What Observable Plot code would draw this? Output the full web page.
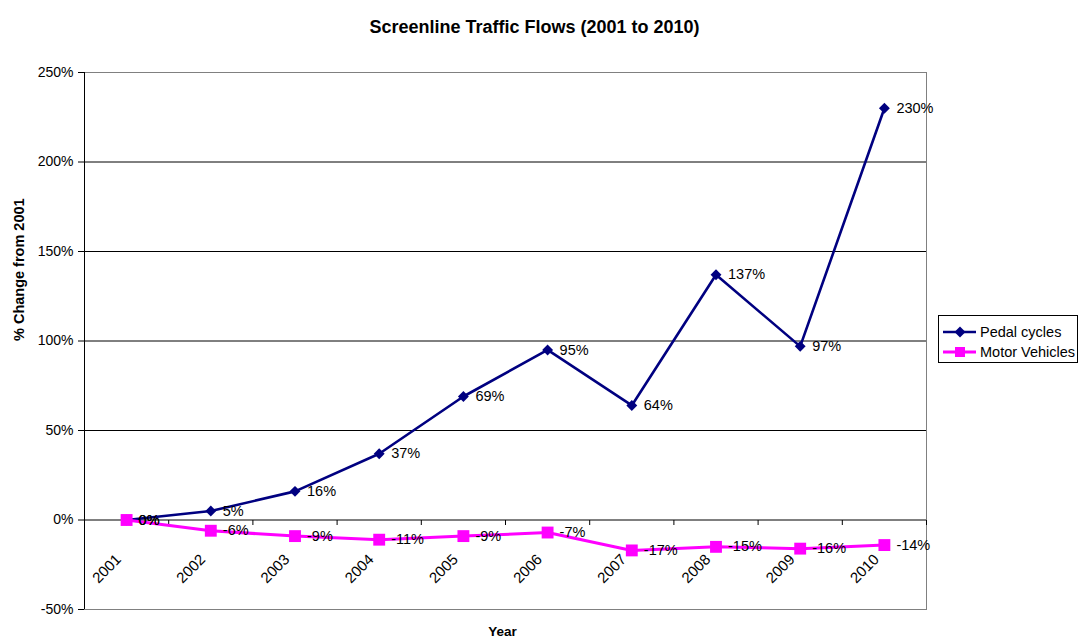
<!DOCTYPE html>
<html>
<head>
<meta charset="utf-8">
<script src="https://cdn.jsdelivr.net/npm/d3@7"></script>
<script src="https://cdn.jsdelivr.net/npm/@observablehq/plot@0.6"></script>
<style>
  html, body { margin: 0; padding: 0; background: #fff; }
  #wrap { position: relative; width: 1080px; height: 641px; font-family: "Liberation Sans", Arial, sans-serif; }
  #legend { position: absolute; left: 938px; top: 315px; width: 140px; height: 48px; border: 1px solid #000; box-sizing: border-box; background: #fff; }
</style>
</head>
<body>
<div id="wrap"></div>
<script>
// ---- data ----
const titleText = "Screenline Traffic Flows (2001 to 2010)";
const xLabel = "Year";
const yLabel = "% Change from 2001";
const years = [2001, 2002, 2003, 2004, 2005, 2006, 2007, 2008, 2009, 2010];
const pedalCycles = [0, 5, 16, 37, 69, 95, 64, 137, 97, 230];
const motorVehicles = [0, -6, -9, -11, -9, -7, -17, -15, -16, -14];
const yTicks = [-50, 0, 50, 100, 150, 200, 250];
const seriesNames = ["Pedal cycles", "Motor Vehicles"];
const seriesColors = ["#000080", "#FF00FF"];

const pedalRows = years.map((year, i) => ({year, value: pedalCycles[i]}));
const motorRows = years.map((year, i) => ({year, value: motorVehicles[i]}));
const boundaries = d3.range(years.length + 1).map(i => years[0] - 0.5 + i);
const xDomain = [boundaries[0], boundaries[boundaries.length - 1]];
const yDomain = [yTicks[0], yTicks[yTicks.length - 1]];
const gridValues = yTicks.filter(v => v !== 0 && v !== yDomain[0] && v !== yDomain[1]);

const tickDown = {draw(ctx) { ctx.moveTo(0, 0); ctx.lineTo(0, 5); }};
const font = "Liberation Sans, Arial, sans-serif";

const chart = Plot.plot({
  width: 1080,
  height: 641,
  marginTop: 72,
  marginBottom: 32,
  marginLeft: 84,
  marginRight: 154,
  style: {fontFamily: font, fontSize: "14px", background: "#fff", color: "#000"},
  x: {type: "linear", domain: xDomain, axis: null},
  y: {domain: yDomain, axis: null},
  marks: [
    Plot.frame({stroke: "#808080"}),
    Plot.ruleY(gridValues, {stroke: "#000", strokeWidth: 1}),
    Plot.ruleY([0], {stroke: "#000", strokeWidth: 1}),
    Plot.ruleX([xDomain[0]], {stroke: "#000", strokeWidth: 1}),
    Plot.dot(boundaries, {x: d => d, y: () => 0, symbol: tickDown, stroke: "#000", fill: "none", r: 1, strokeWidth: 1}),
    Plot.axisY({ticks: yTicks, tickFormat: d => d + "%", tickSize: 6, tickPadding: 5, label: null, fontSize: 14, stroke: "#000"}),
    Plot.text(years, {x: d => d, y: () => 0, text: d => String(d), rotate: -45, textAnchor: "end", dx: -8, dy: 37, fontSize: 15, fill: "#000"}),
    Plot.text([titleText], {text: d => d, frameAnchor: "top", dy: -52, dx: 29, fontWeight: "bold", fontSize: 18, fill: "#000"}),
    Plot.text([yLabel], {text: d => d, frameAnchor: "left", dx: -65, rotate: -90, fontWeight: "bold", fontSize: 14.5, fill: "#000"}),
    Plot.text([xLabel], {text: d => d, frameAnchor: "bottom", dy: 26, dx: -3, fontWeight: "bold", fontSize: 13.5, fill: "#000"}),
    Plot.line(pedalRows, {x: "year", y: "value", stroke: seriesColors[0], strokeWidth: 2.6}),
    Plot.dot(pedalRows, {x: "year", y: "value", symbol: "diamond2", r: 4.9, fill: seriesColors[0], stroke: "none"}),
    Plot.line(motorRows, {x: "year", y: "value", stroke: seriesColors[1], strokeWidth: 3}),
    Plot.dot(motorRows, {x: "year", y: "value", symbol: "square", r: 6.7, fill: seriesColors[1], stroke: "none"}),
    Plot.text(pedalRows, {x: "year", y: "value", text: d => d.value + "%", textAnchor: "start", dx: 12, fontSize: 14.5, fill: "#000"}),
    Plot.text(motorRows, {x: "year", y: "value", text: d => d.value + "%", textAnchor: "start", dx: 12, fontSize: 14.5, fill: "#000"})
  ]
});

const wrap = document.getElementById("wrap");
wrap.appendChild(chart);

// legend
const legend = document.createElement("div");
legend.id = "legend";
const ns = "http://www.w3.org/2000/svg";
const lsvg = document.createElementNS(ns, "svg");
lsvg.setAttribute("width", "138");
lsvg.setAttribute("height", "46");
lsvg.style.display = "block";
const markerPaths = [
  "M0,-5.5L5.5,0L0,5.5L-5.5,0Z",
  "M-5,-5H5V5H-5Z"
];
seriesNames.forEach((name, i) => {
  const g = document.createElementNS(ns, "g");
  g.setAttribute("transform", `translate(0,${16 + i * 20})`);
  const line = document.createElementNS(ns, "line");
  line.setAttribute("x1", 4); line.setAttribute("x2", 37);
  line.setAttribute("y1", 0); line.setAttribute("y2", 0);
  line.setAttribute("stroke", seriesColors[i]);
  line.setAttribute("stroke-width", i === 0 ? 2.6 : 3);
  g.appendChild(line);
  const m = document.createElementNS(ns, "path");
  m.setAttribute("d", markerPaths[i]);
  m.setAttribute("transform", "translate(21,0)");
  m.setAttribute("fill", seriesColors[i]);
  g.appendChild(m);
  const t = document.createElementNS(ns, "text");
  t.setAttribute("x", 41); t.setAttribute("y", 0);
  t.setAttribute("dy", "0.35em");
  t.setAttribute("font-size", "14.5px");
  t.setAttribute("font-family", font);
  t.textContent = name;
  g.appendChild(t);
  lsvg.appendChild(g);
});
legend.appendChild(lsvg);
wrap.appendChild(legend);
</script>
</body>
</html>
